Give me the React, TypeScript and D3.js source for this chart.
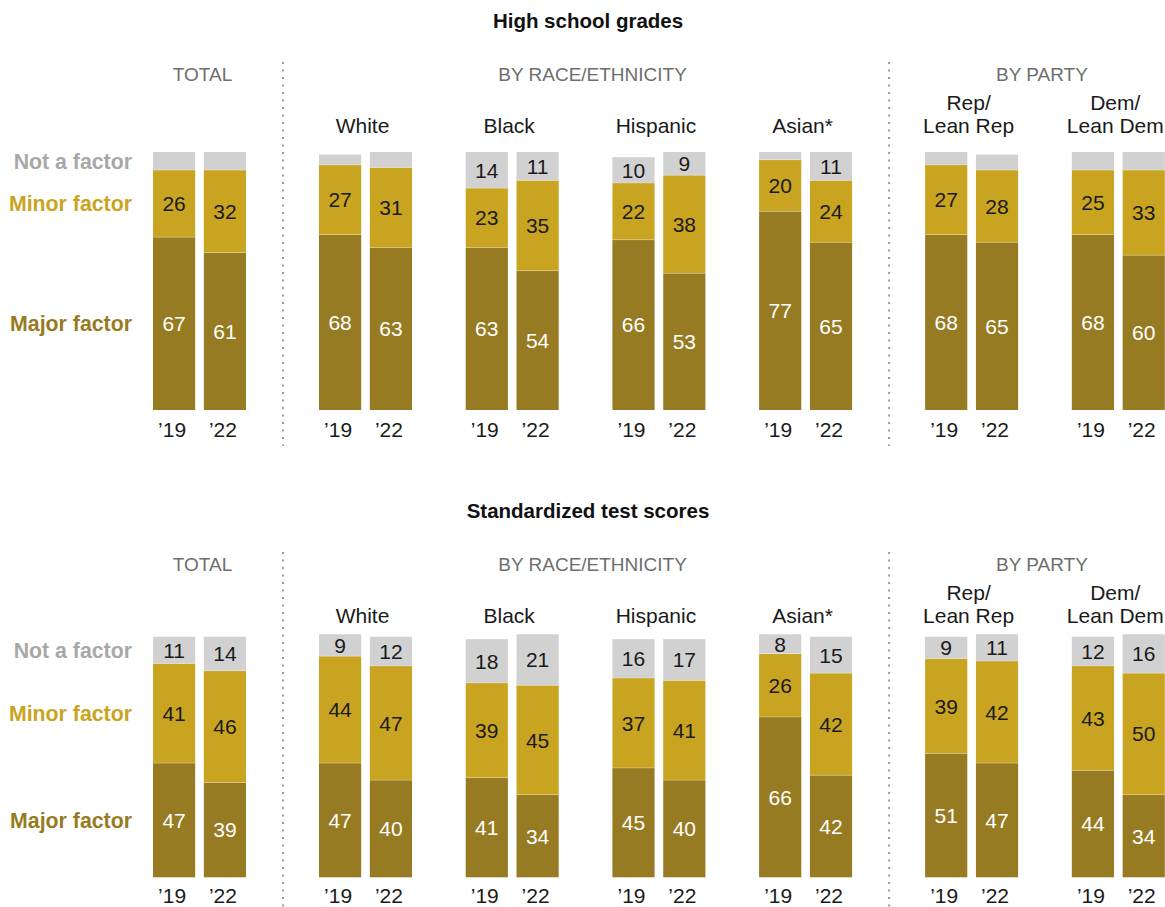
import React from "react";
import * as d3 from "d3";

// ---- Data ----
const groupNames = ["Total", "White", "Black", "Hispanic", "Asian*", "Rep/Lean Rep", "Dem/Lean Dem"];
const groupLabelLines: string[][] = [[], ["White"], ["Black"], ["Hispanic"], ["Asian*"], ["Rep/", "Lean Rep"], ["Dem/", "Lean Dem"]];
const groupSection = [0, 1, 1, 1, 1, 2, 2];
const sectionTitles = ["TOTAL", "BY RACE/ETHNICITY", "BY PARTY"];
const years = ["’19", "’22"];
const categories = ["Major factor", "Minor factor", "Not a factor"];

const gradesMajor19 = [67, 68, 63, 66, 77, 68, 68];
const gradesMajor22 = [61, 63, 54, 53, 65, 65, 60];
const gradesMinor19 = [26, 27, 23, 22, 20, 27, 25];
const gradesMinor22 = [32, 31, 35, 38, 24, 28, 33];
const gradesNot19 = [7, 4, 14, 10, 3, 5, 7];
const gradesNot22 = [7, 6, 11, 9, 11, 6, 7];

const testMajor19 = [47, 47, 41, 45, 66, 51, 44];
const testMajor22 = [39, 40, 34, 40, 42, 47, 34];
const testMinor19 = [41, 44, 39, 37, 26, 39, 43];
const testMinor22 = [46, 47, 45, 41, 42, 42, 50];
const testNot19 = [11, 9, 18, 16, 8, 9, 12];
const testNot22 = [14, 12, 21, 17, 15, 11, 16];

const panelTitles = ["High school grades", "Standardized test scores"];

// ---- Style ----
const COLORS = ["#977b22", "#c9a420", "#d1d1d1"];
const LEGEND_COLORS = ["#977b22", "#c9a420", "#a8a8a8"];
const LABEL_COLORS = ["#ffffff", "#1a1a1a", "#1a1a1a"];
const FONT = "'Liberation Sans', Arial, sans-serif";

const W = 1165;
const H = 907;

const panels = [
  {
    title: panelTitles[0],
    major: [gradesMajor19, gradesMajor22],
    minor: [gradesMinor19, gradesMinor22],
    not: [gradesNot19, gradesNot22],
    off: 0,
    yBottom: 410,
    yTop: 152,
    yearY: 437,
    divider: [62, 446],
  },
  {
    title: panelTitles[1],
    major: [testMajor19, testMajor22],
    minor: [testMinor19, testMinor22],
    not: [testNot19, testNot22],
    off: 490,
    yBottom: 877.3,
    yTop: 634.3,
    yearY: 902.5,
    divider: [552, 907],
  },
];

// group positions: index plus section gap, mapped through linear scale
const sectionGap = 0.1316;
const groupPos = groupNames.map((_, i) => i + groupSection[i] * sectionGap);
const xGroup = d3.scaleLinear().domain([0, 1]).range([153, 153 + 146.7]);
const xBar = d3.scaleBand<string>().domain(years).range([0, 93]).paddingInner(0.17).paddingOuter(0);

function Panel({ p }: { p: (typeof panels)[number] }) {
  const y = d3.scaleLinear().domain([0, 100]).range([p.yBottom, p.yTop]);
  const o = p.off;

  const sectionCenters = sectionTitles.map((_, s) => {
    const idx = groupNames.map((_, i) => i).filter((i) => groupSection[i] === s);
    const left = xGroup(groupPos[idx[0]]);
    const right = xGroup(groupPos[idx[idx.length - 1]]) + xBar.range()[1];
    return (left + right) / 2;
  });
  const sectionNudge = [3, 7, -3];

  const dividerXs = [1, 2].map((s) => {
    const firstIdx = groupSection.indexOf(s);
    const prevRight = xGroup(groupPos[firstIdx - 1]) + xBar.range()[1];
    const nextLeft = xGroup(groupPos[firstIdx]);
    return (prevRight + nextLeft) / 2 + 0.5;
  });

  return (
    <g>
      <text x={588} y={28 + o} textAnchor="middle" fontFamily={FONT} fontWeight={700} fontSize={20.5} fill="#111">
        {p.title}
      </text>
      {sectionTitles.map((t, s) => (
        <text
          key={t}
          x={sectionCenters[s] + sectionNudge[s]}
          y={81 + o}
          textAnchor="middle"
          fontFamily={FONT}
          fontSize={19}
          fill="#6e6e6e"
        >
          {t}
        </text>
      ))}
      {dividerXs.map((dx, k) => (
        <line
          key={k}
          x1={dx}
          x2={dx}
          y1={p.divider[0]}
          y2={p.divider[1]}
          stroke="#9a9a9a"
          strokeWidth={2}
          strokeDasharray="2 5.5"
        />
      ))}
      {groupNames.map((g, gi) => {
        const gx = xGroup(groupPos[gi]);
        const cx = gx + xBar.range()[1] / 2 - 3;
        const lines = groupLabelLines[gi];
        return (
          <g key={g}>
            {lines.map((ln, li) => (
              <text
                key={li}
                x={cx}
                y={133 + o - (lines.length - 1 - li) * 23}
                textAnchor="middle"
                fontFamily={FONT}
                fontSize={21}
                fill="#1a1a1a"
              >
                {ln}
              </text>
            ))}
            {years.map((yr, yi) => {
              const bx = gx + (xBar(yr) as number);
              const bw = xBar.bandwidth();
              const vals = [p.major[yi][gi], p.minor[yi][gi], p.not[yi][gi]];
              const stack = d3.cumsum(vals);
              return (
                <g key={yr}>
                  {vals.map((v, ci) => {
                    const lo = stack[ci] - v;
                    const hi = stack[ci];
                    const y0 = y(lo);
                    const y1 = y(hi);
                    return (
                      <g key={ci}>
                        <rect x={bx} y={y1} width={bw} height={y0 - y1} fill={COLORS[ci]} />
                        {v >= 8 && (
                          <text
                            x={bx + bw / 2}
                            y={(y0 + y1) / 2}
                            dy="0.36em"
                            textAnchor="middle"
                            fontFamily={FONT}
                            fontSize={21}
                            fill={LABEL_COLORS[ci]}
                          >
                            {v}
                          </text>
                        )}
                      </g>
                    );
                  })}
                  {[stack[0], stack[1]].map((s, k) => (
                    <line key={k} x1={bx} x2={bx + bw} y1={y(s)} y2={y(s)} stroke="#ffffff" strokeOpacity={0.25} strokeWidth={1} />
                  ))}
                  <text
                    x={bx + bw / 2 - 2}
                    y={p.yearY}
                    textAnchor="middle"
                    fontFamily={FONT}
                    fontSize={21}
                    fill="#1a1a1a"
                  >
                    {yr}
                  </text>
                </g>
              );
            })}
          </g>
        );
      })}
      {categories.map((c, ci) => {
        const vals = [p.major[0][0], p.minor[0][0], p.not[0][0]];
        const stack = d3.cumsum(vals);
        const mid = (y(stack[ci] - vals[ci]) + y(stack[ci])) / 2;
        return (
          <text
            key={c}
            x={132}
            y={mid}
            dy="0.36em"
            textAnchor="end"
            fontFamily={FONT}
            fontWeight={700}
            fontSize={21.3}
            fill={LEGEND_COLORS[ci]}
          >
            {c}
          </text>
        );
      })}
    </g>
  );
}

export default function App() {
  return (
    <svg
      width={W}
      height={H}
      viewBox={`0 0 ${W} ${H}`}
      style={{ position: "absolute", left: 0, top: 0, background: "#ffffff" }}
    >
      <rect width={W} height={H} fill="#ffffff" />
      {panels.map((p, i) => (
        <Panel key={i} p={p} />
      ))}
    </svg>
  );
}
